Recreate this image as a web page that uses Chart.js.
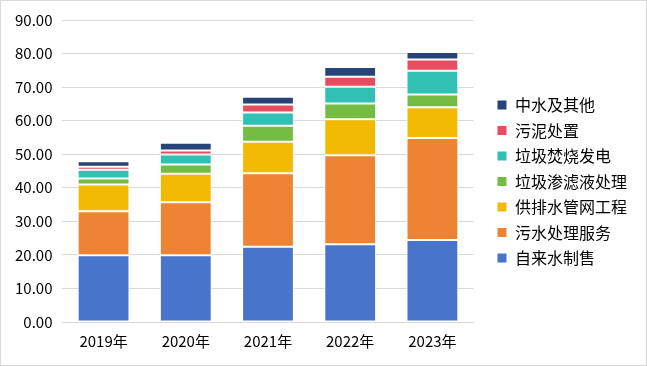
<!DOCTYPE html>
<html>
<head>
<meta charset="utf-8">
<script src="https://cdn.jsdelivr.net/npm/chart.js@4/dist/chart.umd.min.js"></script>
<style>
  html, body { margin: 0; padding: 0; background: #fff; }
  #wrap { width: 645px; height: 364px; border: 1px solid #d9d9d9; position: relative; }
</style>
</head>
<body>
<div id="wrap"><canvas id="chart"></canvas></div>
<script>
const years = ['2019年', '2020年', '2021年', '2022年', '2023年'];
const tapWater = [19.9, 19.9, 22.4, 23.2, 24.4];     // 自来水制售
const sewage = [13.1, 15.8, 21.9, 26.5, 30.4];       // 污水处理服务
const pipeWorks = [8.0, 8.5, 9.4, 10.7, 9.2];        // 供排水管网工程
const leachate = [1.8, 2.7, 4.8, 4.7, 3.8];          // 垃圾渗滤液处理
const incineration = [2.6, 3.0, 3.9, 5.0, 7.1];      // 垃圾焚烧发电
const sludge = [0.9, 1.2, 2.4, 3.0, 3.3];            // 污泥处置
const reclaimed = [1.6, 2.3, 2.3, 2.9, 2.3];         // 中水及其他

const font = '"Noto Sans CJK SC", "Noto Sans", sans-serif';

function series(label, data, color) {
    return {
        label: label,
        data: data,
        backgroundColor: color,
        borderColor: '#ffffff',
        borderWidth: 1,
        borderSkipped: false,
        categoryPercentage: 0.63,
        barPercentage: 1.0
    };
}

// make the legend box wider and push its items a bit right, leaving a gap to the plot
const legendGap = {
    id: 'legendGap',
    beforeInit(chart) {
        const fit = chart.legend.fit;
        chart.legend.fit = function () {
            fit.call(this);
            this.width += 21;
        };
    },
    afterLayout(chart) {
        chart.legend.left += 14;
    }
};

const ctx = document.getElementById('chart').getContext('2d');
new Chart(ctx, {
    type: 'bar',
    data: {
        labels: years,
        datasets: [
            series('自来水制售', tapWater, '#4874CB'),
            series('污水处理服务', sewage, '#EE8433'),
            series('供排水管网工程', pipeWorks, '#F2BA02'),
            series('垃圾渗滤液处理', leachate, '#75BC42'),
            series('垃圾焚烧发电', incineration, '#30C0B4'),
            series('污泥处置', sludge, '#E64E5F'),
            series('中水及其他', reclaimed, '#264478')
        ]
    },
    options: {
        responsive: true,
        maintainAspectRatio: false,
        animation: false,
        layout: { padding: { left: 4, right: 2, top: 10, bottom: 13 } },
        plugins: {
            tooltip: { enabled: false },
            legend: {
                position: 'right',
                reverse: true,
                labels: {
                    boxWidth: 10,
                    boxHeight: 10,
                    padding: 9.5,
                    color: '#000',
                    font: { family: font, size: 16 }
                }
            }
        },
        scales: {
            x: {
                stacked: true,
                grid: { display: false },
                border: { color: '#d9d9d9' },
                ticks: {
                    color: '#000',
                    padding: 2,
                    font: { family: font, size: 15 }
                }
            },
            y: {
                stacked: true,
                min: 0,
                max: 90,
                border: { display: false },
                grid: { color: '#d9d9d9', drawTicks: false },
                ticks: {
                    stepSize: 10,
                    color: '#000',
                    padding: 10,
                    font: { family: font, size: 15 },
                    callback: v => v.toFixed(2)
                }
            }
        }
    },
    plugins: [legendGap]
});
</script>
</body>
</html>
